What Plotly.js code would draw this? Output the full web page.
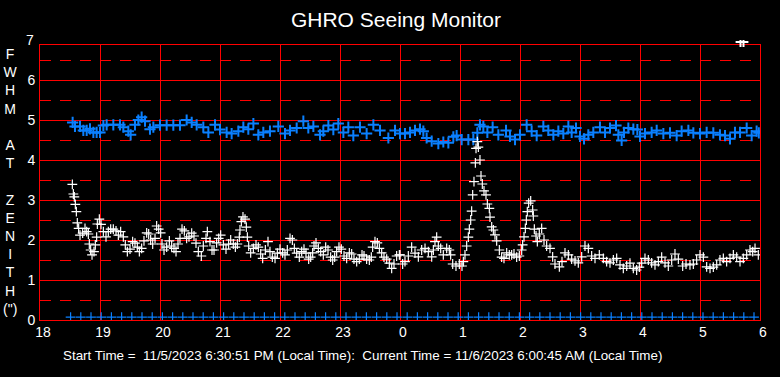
<!DOCTYPE html>
<html>
<head>
<meta charset="utf-8">
<script src="https://cdn.plot.ly/plotly-3.0.1.min.js"></script>
<style>html,body{margin:0;padding:0;background:#000;}#chart{width:780px;height:377px;}</style>
</head>
<body>
<div id="chart"></div>
<script>
// ---- data (hours since midnight of 11/5; 24+ = next morning) ----
const tickVals = [18,19,20,21,22,23,24,25,26,27,28,29,30];
const tickLabels = ['18','19','20','21','22','23','0','1','2','3','4','5','6'];

const blueX = [18.544,18.583,18.667,18.722,18.778,18.833,18.889,18.944,19.0,19.056,19.111,19.222,19.333,19.389,19.472,19.511,19.583,19.639,19.694,19.75,19.833,19.889,20.0,20.111,20.222,20.333,20.444,20.528,20.611,20.722,20.806,20.917,21.0,21.111,21.194,21.306,21.389,21.472,21.556,21.639,21.722,21.833,21.972,22.083,22.167,22.278,22.389,22.472,22.556,22.667,22.722,22.806,22.889,22.972,23.056,23.139,23.222,23.333,23.444,23.556,23.667,23.806,23.917,
24.0,24.083,24.167,24.25,24.333,24.389,24.444,24.528,24.639,24.722,24.806,24.889,24.944,25.028,25.139,25.222,25.289,25.333,25.389,25.456,25.544,25.639,25.767,25.833,25.917,26.0,26.111,26.194,26.278,26.389,26.472,26.556,26.639,26.722,26.806,26.861,26.933,27.0,27.067,27.139,27.222,27.333,27.417,27.5,27.6,27.639,27.694,27.733,27.806,27.889,27.956,28.0,28.083,28.194,28.278,28.389,28.5,28.611,28.694,28.806,28.889,29.0,29.111,29.222,29.333,29.417,29.5,29.583,29.667,29.778,29.861,29.944,29.98];
const blueY = [4.94,4.84,4.84,4.74,4.74,4.78,4.69,4.69,4.69,4.86,4.88,4.88,4.88,4.82,4.72,4.63,4.88,5.0,5.07,4.97,4.77,4.82,4.87,4.87,4.87,4.87,5.0,4.94,4.88,4.82,4.69,4.88,4.76,4.69,4.66,4.72,4.82,4.77,4.91,4.63,4.69,4.72,4.84,4.66,4.74,4.8,4.97,4.8,4.84,4.63,4.72,4.86,4.76,4.91,4.69,4.82,4.61,4.82,4.66,4.88,4.74,4.55,4.74,
4.66,4.66,4.69,4.74,4.77,4.72,4.55,4.47,4.41,4.45,4.43,4.58,4.61,4.51,4.51,4.51,4.68,4.88,4.84,4.69,4.82,4.63,4.74,4.59,4.51,4.63,4.88,4.72,4.61,4.84,4.74,4.63,4.72,4.66,4.84,4.69,4.8,4.59,4.53,4.63,4.69,4.82,4.69,4.8,4.86,4.63,4.49,4.69,4.8,4.77,4.76,4.59,4.66,4.69,4.74,4.66,4.68,4.61,4.72,4.74,4.68,4.66,4.69,4.68,4.63,4.61,4.53,4.69,4.69,4.8,4.61,4.72,4.68];

const whiteX = [18.539,18.556,18.572,18.589,18.606,18.622,18.644,18.667,18.711,18.75,18.778,18.806,18.822,18.844,18.867,18.9,18.922,18.944,18.956,18.989,19.017,19.056,19.1,19.139,19.178,19.222,19.267,19.306,19.344,19.389,19.422,19.456,19.5,19.544,19.583,19.622,19.656,19.694,19.733,19.778,19.811,19.844,19.878,19.917,19.944,19.978,20.011,20.033,20.067,20.111,20.156,20.194,20.233,20.267,20.3,20.333,20.367,20.406,20.444,20.483,20.528,20.567,20.6,20.639,20.689,20.722,20.767,20.789,20.833,20.867,20.9,20.944,20.978,21.011,21.056,21.1,21.144,21.178,21.222,21.256,21.289,21.322,21.333,21.356,21.383,21.417,21.439,21.456,21.478,21.511,21.556,21.6,21.639,21.678,21.711,21.756,21.8,21.833,21.872,21.917,21.956,22.0,22.044,22.083,22.122,22.167,22.206,22.239,22.278,22.322,22.361,22.4,22.433,22.478,22.511,22.544,22.567,22.6,22.639,22.678,22.722,22.761,22.8,22.844,22.878,22.911,22.944,22.983,23.022,23.067,23.111,23.156,23.194,23.233,23.278,23.322,23.367,23.4,23.444,23.489,23.522,23.544,23.583,23.622,23.656,23.694,23.733,23.778,23.822,23.861,23.9,23.944,23.989,
24.0,24.044,24.083,24.139,24.194,24.25,24.306,24.361,24.417,24.472,24.528,24.556,24.583,24.611,24.639,24.678,24.722,24.778,24.822,24.844,24.878,24.933,24.989,25.033,25.056,25.083,25.111,25.139,25.156,25.178,25.194,25.211,25.233,25.256,25.267,25.289,25.306,25.333,25.35,25.372,25.4,25.433,25.456,25.489,25.5,25.528,25.556,25.583,25.611,25.656,25.694,25.733,25.778,25.822,25.861,25.9,25.944,25.989,26.028,26.044,26.067,26.089,26.106,26.122,26.144,26.178,26.211,26.222,26.239,26.267,26.289,26.322,26.361,26.4,26.444,26.5,26.544,26.583,26.656,26.7,26.75,26.806,26.861,26.917,26.972,27.028,27.083,27.139,27.194,27.25,27.322,27.389,27.444,27.5,27.556,27.611,27.667,27.722,27.778,27.833,27.889,27.944,27.989,28.028,28.083,28.139,28.194,28.25,28.306,28.361,28.417,28.472,28.528,28.583,28.639,28.711,28.767,28.833,28.889,28.944,29.0,29.056,29.111,29.167,29.222,29.278,29.333,29.389,29.444,29.5,29.556,29.611,29.667,29.722,29.778,29.833,29.878,29.917,29.972];
const whiteY = [3.39,3.15,3.08,2.89,2.71,2.43,2.29,2.12,2.17,2.29,2.21,2.15,1.9,1.75,1.63,1.71,1.88,2.07,2.4,2.52,2.39,2.21,2.08,2.21,2.27,2.27,2.23,2.12,2.21,2.08,1.88,1.71,1.77,1.96,1.92,1.82,1.71,1.79,1.98,2.18,2.15,2.0,1.9,2.04,2.35,2.27,2.18,1.9,1.75,1.82,1.98,1.85,1.79,1.71,1.9,2.04,2.27,2.23,2.04,2.08,2.17,2.1,1.92,1.71,1.6,1.85,2.04,2.21,1.96,1.75,1.75,1.93,2.04,2.12,1.88,1.77,1.9,2.0,1.9,1.82,1.9,2.07,2.25,2.46,2.58,2.52,2.32,2.07,1.85,1.68,1.79,1.88,1.82,1.65,1.54,1.75,1.96,1.71,1.57,1.54,1.67,1.77,1.68,1.63,1.75,2.04,2.0,1.79,1.67,1.57,1.71,1.77,1.67,1.52,1.57,1.68,1.85,1.93,1.79,1.71,1.63,1.82,1.75,1.57,1.5,1.57,1.71,1.82,1.77,1.6,1.54,1.68,1.65,1.52,1.46,1.52,1.63,1.6,1.52,1.5,1.57,1.82,1.96,1.93,1.79,1.68,1.57,1.52,1.42,1.29,1.4,1.6,1.63,
1.63,1.4,1.46,1.6,1.82,1.67,1.58,1.75,1.79,1.71,1.58,1.75,1.96,2.07,1.85,1.79,1.63,1.79,1.75,1.63,1.4,1.35,1.4,1.35,1.46,1.63,1.85,2.07,2.27,2.5,2.72,3.13,3.46,3.93,4.29,4.46,4.32,4.0,3.6,3.4,3.23,3.13,2.9,2.79,2.57,2.33,2.25,2.13,1.98,1.75,1.57,1.54,1.68,1.63,1.63,1.65,1.57,1.6,1.75,1.88,2.08,2.29,2.5,2.71,2.92,2.98,2.75,2.6,2.27,2.1,1.96,2.15,2.29,2.0,1.85,1.79,1.58,1.4,1.33,1.46,1.68,1.63,1.52,1.48,1.43,1.58,1.85,1.79,1.6,1.54,1.63,1.54,1.46,1.43,1.5,1.54,1.38,1.29,1.35,1.42,1.29,1.25,1.32,1.42,1.54,1.5,1.43,1.38,1.46,1.57,1.43,1.35,1.5,1.65,1.52,1.35,1.4,1.38,1.4,1.5,1.63,1.57,1.33,1.29,1.32,1.38,1.5,1.54,1.46,1.54,1.63,1.57,1.46,1.54,1.63,1.75,1.71,1.79,1.63];

// off-scale readings shown at the top edge
const topX = [29.675, 29.725];
const topY = [6.95, 6.95];

// 10-minute status markers along the bottom
const baseX = [18.51,18.68,18.85,19.02,19.19,19.36,19.53,19.70,19.87,20.04,20.21,20.38,20.55,20.72,20.89,21.06,21.23,21.40,21.57,21.74,21.91,22.08,22.25,22.42,22.59,22.76,22.93,23.10,23.27,23.44,23.61,23.78,23.95,24.12,24.29,24.46,24.63,24.80,24.97,25.14,25.31,25.48,25.65,25.82,25.99,26.16,26.33,26.50,26.67,26.84,27.01,27.18,27.35,27.52,27.69,27.86,28.03,28.20,28.37,28.54,28.71,28.88,29.05,29.22,29.39,29.56,29.73,29.90];
const baseY = [0.07,0.07,0.07,0.07,0.07,0.07,0.07,0.07,0.07,0.07,0.07,0.07,0.07,0.07,0.07,0.07,0.07,0.07,0.07,0.07,0.07,0.07,0.07,0.07,0.07,0.07,0.07,0.07,0.07,0.07,0.07,0.07,0.07,0.07,0.07,0.07,0.07,0.07,0.07,0.07,0.07,0.07,0.07,0.07,0.07,0.07,0.07,0.07,0.07,0.07,0.07,0.07,0.07,0.07,0.07,0.07,0.07,0.07,0.07,0.07,0.07,0.07,0.07,0.07,0.07,0.07,0.07,0.07];

const titleText = 'GHRO Seeing Monitor';
const yTitleText = 'F<br>W<br>H<br>M<br><br>A<br>T<br><br>Z<br>E<br>N<br>I<br>T<br>H<br>(")';
const footerText = 'Start Time =  11/5/2023 6:30:51 PM (Local Time):  Current Time = 11/6/2023 6:00:45 AM (Local Time)';

const BLUE = '#0a80ff';
const FONT = 'Liberation Sans, Arial, sans-serif';
const TOPFRAC = 275 / 280; // main plot occupies this share of the (40px-top) plotting band

function plusMarker(color, size, w) {
  return {symbol: 'cross-thin', size: size, color: color, line: {color: color, width: w}};
}

const traces = [
  {x: blueX, y: blueY, type: 'scatter', mode: 'markers', marker: plusMarker(BLUE, 8, 2), hoverinfo: 'skip'},
  {x: whiteX, y: whiteY, type: 'scatter', mode: 'markers', marker: plusMarker('#ffffff', 7, 1.2), hoverinfo: 'skip'},
  {x: baseX, y: baseY, type: 'scatter', mode: 'markers', marker: plusMarker(BLUE, 7, 1.2), hoverinfo: 'skip'},
  {x: topX, y: topY, xaxis: 'x2', yaxis: 'y2', type: 'scatter', mode: 'markers', marker: plusMarker('#ffffff', 7, 2), hoverinfo: 'skip'}
];

const layout = {
  width: 780, height: 377,
  paper_bgcolor: '#000', plot_bgcolor: 'rgba(0,0,0,0)',
  margin: {l: 40, r: 20, t: 40, b: 57},
  showlegend: false,
  font: {family: FONT, color: '#fff', size: 14},
  title: {text: titleText, font: {family: FONT, size: 21, color: '#fff'},
          x: 396/780, xref: 'container', xanchor: 'center', y: 1 - 20/377, yref: 'container', yanchor: 'middle'},
  xaxis: {
    range: [18, 30], tickmode: 'array', tickvals: tickVals, ticktext: tickLabels, anchor: 'y',
    showgrid: true, gridcolor: '#ff0000', gridwidth: 1,
    showline: true, linecolor: '#ff0000', linewidth: 1, mirror: true,
    zeroline: false, ticks: '', ticklabelshift: 3, ticklabelstandoff: -1,
    tickfont: {family: FONT, size: 14, color: '#fff'}, fixedrange: true
  },
  yaxis: {
    domain: [0, TOPFRAC], anchor: 'x',
    range: [0, 6.875], tickmode: 'linear', tick0: 0, dtick: 1,
    showgrid: true, gridcolor: '#ff0000', gridwidth: 1,
    minor: {tickmode: 'linear', tick0: 0.5, dtick: 1, showgrid: true, gridcolor: '#ff0000', griddash: '11px,9px', gridwidth: 1, ticks: ''},
    showline: true, linecolor: '#ff0000', linewidth: 1, mirror: true,
    zeroline: false, ticks: '', ticklabelstandoff: 1,
    tickfont: {family: FONT, size: 14, color: '#fff'}, fixedrange: true
  },
  xaxis2: {domain: [0, 1], range: [18, 30], anchor: 'y2', visible: false, showgrid: false, zeroline: false, fixedrange: true},
  yaxis2: {domain: [0, 1], range: [0, 7], anchor: 'x2', visible: false, showgrid: false, zeroline: false, fixedrange: true},
  annotations: [
    {text: '7', xref: 'paper', x: 0, xanchor: 'right', xshift: -4, yref: 'paper', y: 1, yanchor: 'middle', showarrow: false,
     font: {family: FONT, size: 14, color: '#fff'}},
    {text: yTitleText, xref: 'paper', x: (11 - 40) / 720, xanchor: 'center', yref: 'paper', y: (320 - 181) / 280, yanchor: 'middle',
     showarrow: false, align: 'center', font: {family: FONT, size: 14, color: '#fff'}},
    {text: footerText, xref: 'paper', x: (362 - 40) / 720, xanchor: 'center', yref: 'paper', y: (320 - 355) / 280, yanchor: 'middle',
     showarrow: false, font: {family: FONT, size: 13.4, color: '#fff'}}
  ]
};

Plotly.newPlot('chart', traces, layout, {staticPlot: true, displayModeBar: false});
</script>
</body>
</html>
